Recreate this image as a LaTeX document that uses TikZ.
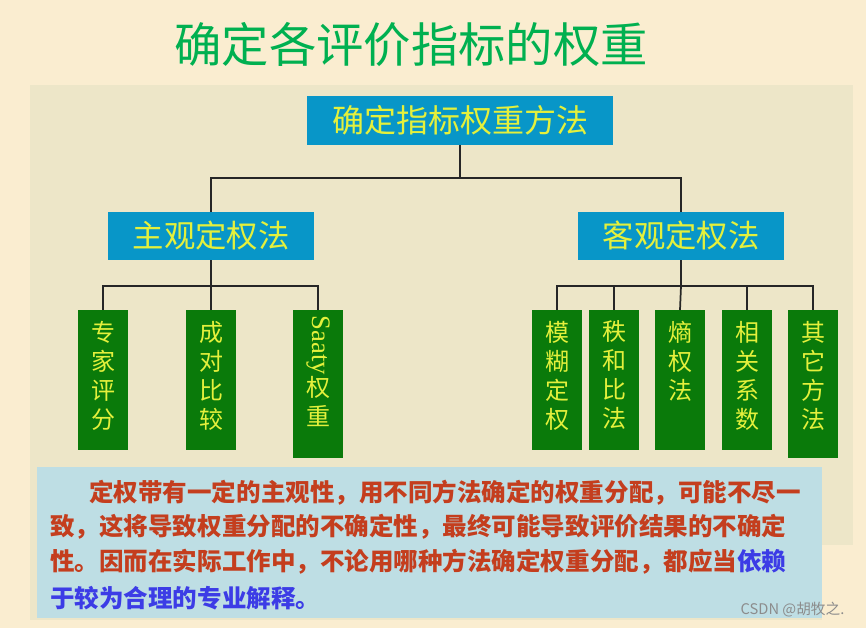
\documentclass[tikz,border=0pt]{standalone}
\usepackage{fontspec}
\setmainfont{Noto Sans CJK SC}
\newfontfamily\saatyfont{Liberation Serif}
\usetikzlibrary{positioning}
\definecolor{bg_cream}{RGB}{250,237,208}
\definecolor{bg_panel}{RGB}{237,230,200}
\definecolor{box_blue}{RGB}{8,150,200}
\definecolor{box_green}{RGB}{10,122,10}
\definecolor{txt_yellow}{RGB}{228,240,60}
\definecolor{title_green}{RGB}{0,176,80}
\definecolor{note_blue}{RGB}{190,222,228}
\definecolor{note_red}{RGB}{196,62,30}
\definecolor{note_ink}{RGB}{60,60,230}
\tikzstyle{hb}=[rectangle,fill=box_blue,text=txt_yellow,inner sep=0pt,
  minimum width=229.5pt,minimum height=36.75pt,font=\fontsize{24}{28}\selectfont]
\tikzstyle{mb}=[rectangle,fill=box_blue,text=txt_yellow,inner sep=0pt,
  minimum width=154.5pt,minimum height=36pt,font=\fontsize{23.5}{28}\selectfont]
\tikzstyle{lb}=[rectangle,fill=box_green,inner sep=0pt,anchor=north,
  minimum width=37.5pt,minimum height=105pt]
\tikzstyle{lt}=[text=txt_yellow,align=center,anchor=north,inner sep=0pt,
  yshift=-8pt,font=\fontsize{18}{21.75}\selectfont]
\tikzstyle{nt}=[anchor=west,inner sep=0pt,text=note_red,
  font=\fontsize{18.4}{22}\selectfont\bfseries]
\tikzstyle{link}=[draw=black!85,line width=1.3pt]

\begin{document}
\begin{tikzpicture}[x=0.75pt,y=-0.75pt]
    \useasboundingbox (0,0) rectangle (866,628);
    \fill[bg_cream] (0,0) rectangle (866,628);
    \fill[bg_panel] (30,85) rectangle (853,545);
    \fill[bg_panel] (30,545) rectangle (822,620);
    \node [text=title_green,font=\fontsize{35.5}{40}\selectfont] (title) at (411,45) {确定各评价指标的权重};
    \node [style=hb] (root) at (460,120) {确定指标权重方法};
    \node [style=mb] (subj) at (211,236) {主观定权法};
    \node [style=mb] (obj) at (681,236) {客观定权法};
    \coordinate (bar1) at (0,178);
    \coordinate (bar2) at (0,286);
    % subjective leaves
    \node [style=lb] (zj) at (103,310) {};
    \node [style=lb] (cd) at (211,310) {};
    \node [style=lb,minimum height=111pt] (sa) at (318,310) {};
    \node [style=lt] (zjt) at (zj.north) {专\\家\\评\\分};
    \node [style=lt] (cdt) at (cd.north) {成\\对\\比\\较};
    \node [style=lt,yshift=4pt] (sat) at (sa.north) {\rotatebox{-90}{\saatyfont\fontsize{20}{22}\selectfont Saaty}\\权\\重};
    % objective leaves
    \node [style=lb] (mh) at (557,310) {};
    \node [style=lb] (zh) at (614,310) {};
    \node [style=lb] (sq) at (680,310) {};
    \node [style=lb] (xg) at (747,310) {};
    \node [style=lb,minimum height=111pt] (qt) at (813,310) {};
    \node [style=lt] (mht) at (mh.north) {模\\糊\\定\\权};
    \node [style=lt] (zht) at (zh.north) {秩\\和\\比\\法};
    \node [style=lt] (sqt) at (sq.north) {熵\\权\\法};
    \node [style=lt] (xgt) at (xg.north) {相\\关\\系\\数};
    \node [style=lt] (qtt) at (qt.north) {其\\它\\方\\法};
    \draw [style=link] (root.south) -- (root.south |- bar1) -| (subj.north);
    \draw [style=link] (root.south |- bar1) -| (obj.north);
    \draw [style=link] (subj.south) -- (subj.south |- bar2) -| (zj.north);
    \draw [style=link] (subj.south |- bar2) -- (cd.north);
    \draw [style=link] (subj.south |- bar2) -| (sa.north);
    \draw [style=link] (obj.south) -- (obj.south |- bar2) -| (mh.north);
    \draw [style=link] (obj.south |- bar2) -| (zh.north);
    \draw [style=link] (obj.south |- bar2) -- (sq.north);
    \draw [style=link] (obj.south |- bar2) -| (xg.north);
    \draw [style=link] (obj.south |- bar2) -| (qt.north);
    % note panel
    \fill[note_blue] (37,467) rectangle (822,618);
    \node [style=nt] (line1) at (89,493) {定权带有一定的主观性，用不同方法确定的权重分配，可能不尽一};
    \node [style=nt] (line2) at (50,527) {致，这将导致权重分配的不确定性，最终可能导致评价结果的不确定};
    \node [style=nt] (line3) at (50,562) {性。因而在实际工作中，不论用哪种方法确定权重分配，都应当\textcolor{note_ink}{依赖}};
    \node [style=nt,text=note_ink] (line4) at (50,598) {于较为合理的专业解释。};
    \node [anchor=west,text=black!45,font=\fontsize{11}{13}\selectfont] (mark) at (736,610) {CSDN @胡牧之.};
\end{tikzpicture}
\end{document}
